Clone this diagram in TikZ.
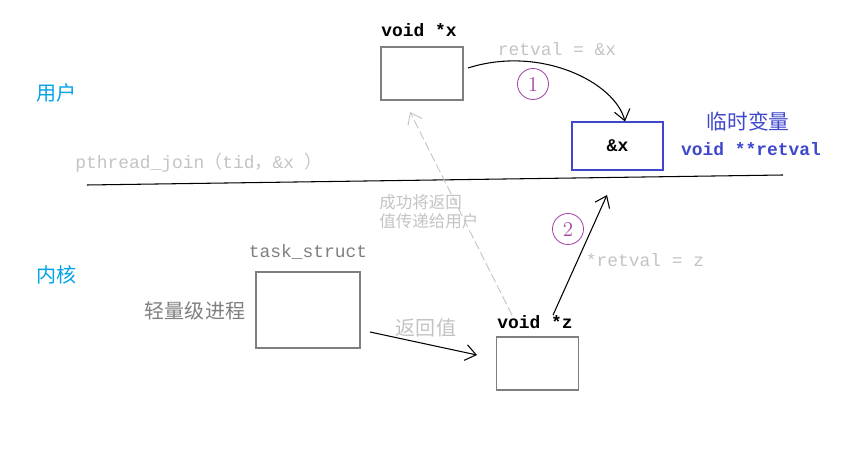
\documentclass[tikz,border=0pt]{standalone}
\usepackage{fontspec}
\setmonofont{Liberation Mono}
\newfontfamily\cjk{Noto Sans CJK SC}
\usetikzlibrary{arrows.meta,positioning}

\definecolor{skyblue}{RGB}{0,162,232}
\definecolor{indigo}{RGB}{63,72,204}
\definecolor{palegray}{RGB}{195,195,195}
\definecolor{midgray}{RGB}{127,127,127}
\definecolor{circlepurple}{RGB}{163,73,164}

\begin{document}
\begin{tikzpicture}[x=0.02cm, y=-0.02cm,
  box/.style={rectangle, draw=midgray, line width=0.6pt, minimum width=1.64cm, minimum height=1.06cm},
  code/.style={font=\fontsize{10.2}{12}\selectfont\ttfamily, inner sep=0pt},
  zh/.style={font=\fontsize{11.4}{13}\selectfont\cjk, inner sep=0pt},
  num/.style={circle, draw=circlepurple, text=circlepurple, line width=0.5pt, minimum size=0.62cm, inner sep=0pt, font=\fontsize{12}{14}\selectfont},
  arr/.style={-{Straight Barb[length=6pt, width=9pt]}, line width=0.6pt},
]
\useasboundingbox (0,0) rectangle (850,449);

% user / kernel
\node[zh, text=skyblue] (user) at (57,93) {用户};
\node[zh, text=skyblue] (kernel) at (57,275) {内核};

% user side
\node[box] (xbox) at (422,73.5) {};
\node[code, font=\fontsize{10.2}{12}\selectfont\ttfamily\bfseries, anchor=south west] (xlbl) at (381,37) {void *x};
\node[code, text=palegray] (setx) at (557,49) {retval = \&x};
\node[num] (one) at (533,84) {1};

\node[box, draw=indigo, minimum width=1.82cm, minimum height=0.96cm] (tmp) at (617.5,146) {};
\node[code, font=\fontsize{10.2}{12}\selectfont\ttfamily\bfseries] at (tmp) {\&x};
\node[zh, text=indigo, font=\fontsize{11.8}{13}\selectfont\cjk] (tmplbl) at (748,122) {临时变量};
\node[code, text=indigo, font=\fontsize{10.2}{12}\selectfont\ttfamily\bfseries] (retval) at (751,149) {void **retval};

\node[code, text=palegray, anchor=west] (join) at (75,163) {pthread\_join{\cjk （}tid{\cjk ，}\&x {\cjk ）}};

% boundary
\coordinate (bl) at (87,185);
\coordinate (br) at (783,175);
\draw[line width=0.6pt] (bl) -- (br);

% kernel side
\node[box, minimum width=2.08cm, minimum height=1.52cm] (task) at (308,310) {};
\node[code, text=midgray, anchor=south] (tasklbl) at (308,260) {task\_struct};
\node[zh, text=midgray] (lwp) at (195,311) {轻量级进程};

\node[box] (zbox) at (537.5,363.5) {};
\node[code, font=\fontsize{10.2}{12}\selectfont\ttfamily\bfseries, anchor=south west] (zlbl) at (497,329) {void *z};
\node[code, text=palegray] (setz) at (645,260) {*retval = z};
\node[num] (two) at (568,229) {2};

\node[zh, text=palegray] (retv) at (426,328) {返回值};
\node[zh, text=palegray, font=\fontsize{9.4}{11}\selectfont\cjk, align=left, anchor=north west] (back) at (379,194) {成功将返回\\值传递给用户};

% connectors
\coordinate (xin) at (468,68);
\coordinate (zup) at (607,195);
\coordinate (xdn) at (410,112);
\coordinate (tout) at (370,332);
\coordinate (zin) at (477,355);

\draw[arr] (xin) .. controls (540,45) and (615,82) .. (tmp.north -| 625,0);
\draw[arr] (zlbl.north -| 553,0) -- (zup);
\draw[arr, draw=palegray, line width=0.5pt, dash pattern=on 5pt off 2pt] (zlbl.north -| 512,0) -- (xdn);
\draw[arr] (tout) -- (zin);

\end{tikzpicture}
\end{document}
